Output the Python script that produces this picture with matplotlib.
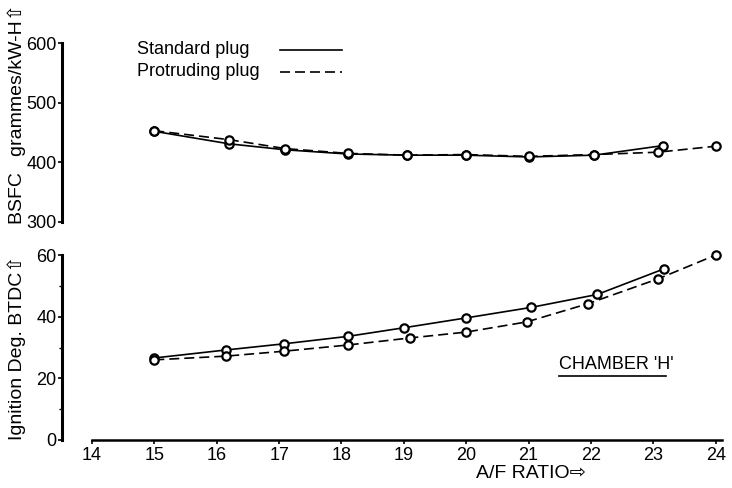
"""BSFC and ignition timing against A/F ratio, standard vs protruding plug (chamber 'H')."""

import matplotlib.pyplot as plt
from matplotlib.lines import Line2D

# --- data --------------------------------------------------------------
bsfc_std_x = [15.0, 16.2, 17.1, 18.1, 19.05, 20.0, 21.0, 22.05, 23.15]
bsfc_std_y = [452, 431, 421, 414, 412, 412, 409, 412, 428]
bsfc_pro_x = [15.0, 16.2, 17.1, 18.1, 19.05, 20.0, 21.0, 22.05, 23.07, 24.0]
bsfc_pro_y = [453, 438, 423, 415, 412, 413, 410, 413, 417, 427]

ign_std_x = [15.0, 16.15, 17.08, 18.1, 19.0, 20.0, 21.04, 22.1, 23.17]
ign_std_y = [26.6, 29.2, 31.2, 33.6, 36.4, 39.6, 43.0, 47.2, 55.5]
ign_pro_x = [15.0, 16.15, 17.08, 18.1, 19.1, 20.0, 20.97, 21.95, 23.08, 24.0]
ign_pro_y = [26.0, 27.2, 28.8, 30.8, 33.1, 35.0, 38.3, 44.2, 52.3, 60.0]

series_names = ["Standard plug", "Protruding plug"]
x_ticks = list(range(14, 25))
bsfc_ticks = [300, 400, 500, 600]
ign_ticks = [0, 20, 40, 60]
# ------------------------------------------------------------------------

plt.rcParams["font.family"] = ["Liberation Sans", "DejaVu Sans"]
plt.rcParams["font.size"] = 12

W, H = 732, 488
fig = plt.figure(figsize=(W / 100, H / 100), dpi=100)

left, right = 62 / W, 722 / W
ax_top = fig.add_axes([left, 1 - 222 / H, right - left, (222 - 43) / H])
ax_bot = fig.add_axes([left, 1 - 440 / H, right - left, (440 - 255) / H])

xlim = (13.52, 24.1)
solid = dict(color="black", lw=1.2)
dashed = dict(color="black", lw=1.2, ls=(0, (6, 3)))
marks = dict(ls="none", marker="o", ms=6, mfc="white", mec="black", mew=1.6,
             clip_on=False, zorder=3)

for ax in (ax_top, ax_bot):
    ax.set_xlim(*xlim)
    ax.spines["top"].set_visible(False)
    ax.spines["right"].set_visible(False)
    ax.spines["left"].set_linewidth(2.2)
    ax.tick_params(axis="y", direction="out", length=3, width=1.2, pad=1,
                   labelsize=13)

# top panel: BSFC
ax_top.plot(bsfc_std_x, bsfc_std_y, **solid)
ax_top.plot(bsfc_pro_x, bsfc_pro_y, **dashed)
ax_top.plot(bsfc_std_x, bsfc_std_y, **marks)
ax_top.plot(bsfc_pro_x, bsfc_pro_y, **marks)
ax_top.set_ylim(300, 600)
ax_top.set_yticks(bsfc_ticks)
ax_top.spines["bottom"].set_visible(False)
ax_top.set_xticks([])

# hand-drawn style key: label first, line sample after it
for i, (name, style) in enumerate(zip(series_names, [solid, dashed])):
    yk = 1 - (50 + 22 * i - 43) / (222 - 43)
    ax_top.text((137 - 62) / 660, yk, name, transform=ax_top.transAxes,
                ha="left", va="center", fontsize=13)
    ax_top.add_line(Line2D([(280 - 62) / 660, (342 - 62) / 660], [yk, yk],
                           transform=ax_top.transAxes, **style))

# bottom panel: ignition timing
ax_bot.plot(ign_std_x, ign_std_y, **solid)
ax_bot.plot(ign_pro_x, ign_pro_y, **dashed)
ax_bot.plot(ign_std_x, ign_std_y, **marks)
ax_bot.plot(ign_pro_x, ign_pro_y, **marks)
ax_bot.set_ylim(0, 60)
ax_bot.set_yticks(ign_ticks)
ax_bot.set_yticks([10, 30, 50], minor=True)
ax_bot.tick_params(axis="y", which="minor", length=2, width=1)
ax_bot.set_xticks(x_ticks)
ax_bot.spines["bottom"].set_bounds(14, xlim[1])
ax_bot.spines["bottom"].set_linewidth(1.8)
ax_bot.tick_params(axis="x", direction="out", length=3, width=1.2, pad=2,
                   labelsize=13)

ax_bot.text(21.48, 24.5, "CHAMBER 'H'", fontsize=13, ha="left", va="center")
ax_bot.add_line(Line2D([21.48, 23.2], [20.8, 20.8], color="black", lw=1.2))

# axis titles
fig.text(17 / W, 1 - 114 / H, "BSFC   grammes/kW-H\u21e7", rotation=90,
         ha="center", va="center", fontsize=14)
fig.text(17 / W, 1 - 348 / H, "Ignition Deg. BTDC\u21e7", rotation=90,
         ha="center", va="center", fontsize=14)
fig.text(531 / W, 1 - 473 / H, "A/F RATIO\u21e8", ha="center", va="center",
         fontsize=14)

fig.savefig("out.png", dpi=100)
